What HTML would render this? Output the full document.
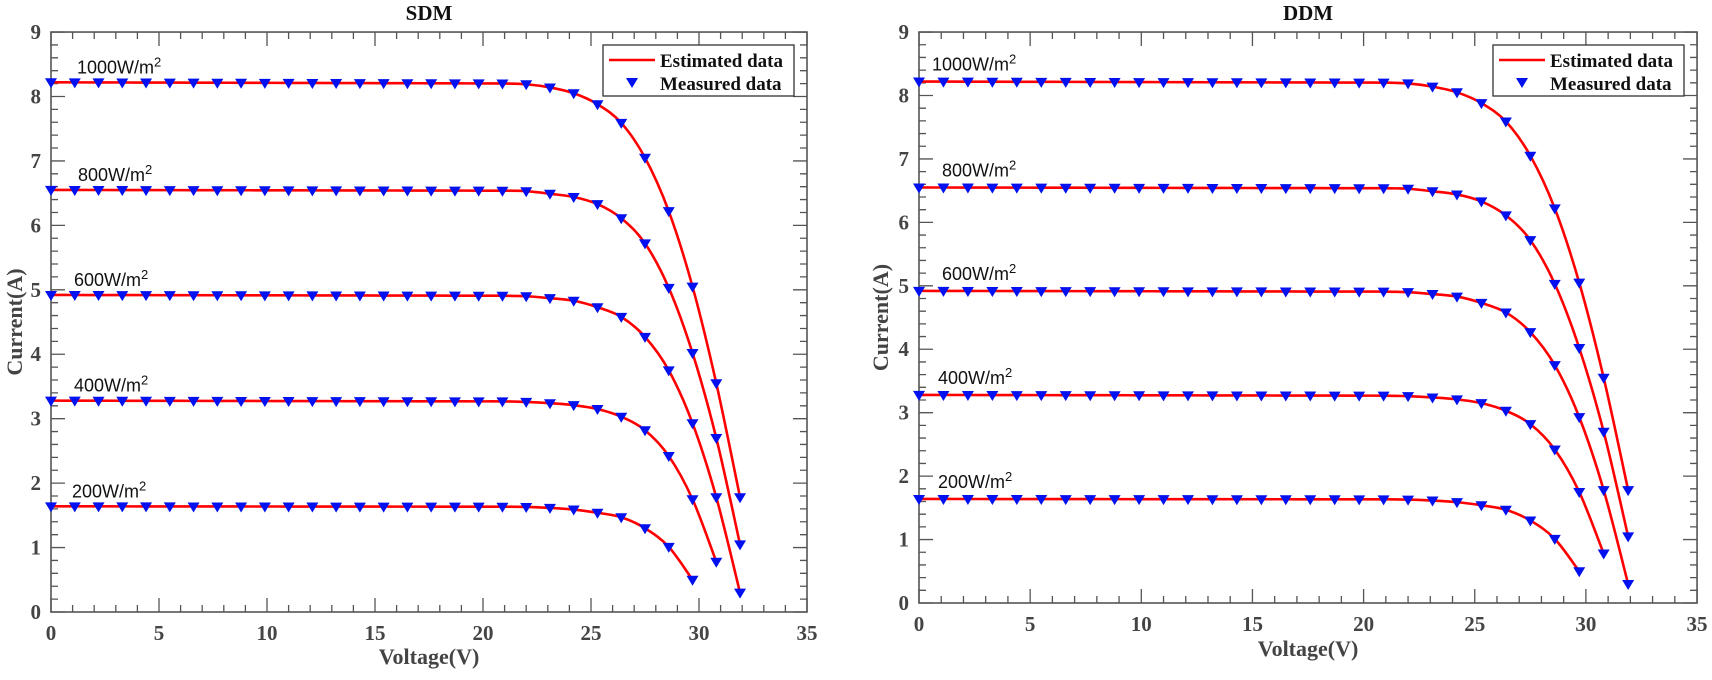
<!DOCTYPE html>
<html><head><meta charset="utf-8"><style>
body{margin:0;background:#fff;}
svg{display:block;}
.tk{font-family:"Liberation Serif",serif;font-weight:bold;font-size:21px;fill:#444;}
.lab{font-family:"Liberation Serif",serif;font-weight:bold;font-size:22px;fill:#444;}
.ttl{font-family:"Liberation Serif",serif;font-weight:bold;font-size:21px;fill:#111;}
.ir{font-family:"Liberation Sans",sans-serif;font-size:18px;fill:#111;}
.lg{font-family:"Liberation Serif",serif;font-weight:bold;font-size:19px;fill:#111;}
</style></head><body>
<svg id="s" width="1712" height="680" xmlns="http://www.w3.org/2000/svg"></svg>
<script>
const NS="http://www.w3.org/2000/svg";const S=document.getElementById('s');
function el(t,a,txt){const e=document.createElementNS(NS,t);for(const k in a)e.setAttribute(k,a[k]);if(txt!==undefined)e.textContent=txt;S.appendChild(e);return e;}
const curves=[
 {isc:8.22,drop:[8.19,8.14,8.05,7.88,7.59,7.05,6.22,5.05,3.55,1.78],n:29,lab:"1000"},
 {isc:6.55,drop:[6.53,6.49,6.44,6.33,6.11,5.72,5.03,4.02,2.7,1.05],n:29,lab:"800"},
 {isc:4.92,drop:[4.90,4.87,4.83,4.73,4.58,4.27,3.75,2.93,1.78,0.3],n:29,lab:"600"},
 {isc:3.28,drop:[3.26,3.24,3.21,3.15,3.03,2.82,2.42,1.75,0.78],n:28,lab:"400"},
 {isc:1.64,drop:[1.63,1.615,1.59,1.54,1.47,1.30,1.01,0.5],n:27,lab:"200"}];
function pts(c){const a=[];for(let k=0;k<=c.n;k++){const V=k*1.1;let I;const j=k-20;if(j>=0)I=c.drop[j];else I=c.isc-(c.isc-c.drop[0])*0.6*k/19;a.push([V,I]);}return a;}
function plot(o){
 const X=v=>o.x0+v*o.sx, Y=v=>o.y0-v*o.sy;
 const x1=X(35),y1=Y(9);
 el('text',{x:(o.x0+x1)/2,y:20,'text-anchor':'middle',class:'ttl'},o.title);
 let g='';
 for(let i=0;i<=35;i++){const L=i%5==0?14:7;const x=X(i);g+=`M${x} ${o.y0}v${-L}M${x} ${y1}v${L}`;
  if(i%5==0)el('text',{x:x,y:o.y0+28,'text-anchor':'middle',class:'tk'},i);}
 for(let i=0;i<=45;i++){const L=i%5==0?14:7;const y=Y(i/5);g+=`M${o.x0} ${y}h${L}M${x1} ${y}h${-L}`;
  if(i%5==0)el('text',{x:o.x0-10,y:y+7,'text-anchor':'end',class:'tk'},i/5);}
 el('path',{d:g,stroke:'#555','stroke-width':1.3,fill:'none'});
 el('rect',{x:o.x0,y:y1,width:x1-o.x0,height:o.y0-y1,fill:'none',stroke:'#555','stroke-width':1.6});
 el('text',{x:(o.x0+x1)/2,y:o.ly,'text-anchor':'middle',class:'lab'},'Voltage(V)');
 el('text',{x:0,y:0,'text-anchor':'middle',class:'lab',transform:`translate(${o.cx},${(o.y0+y1)/2}) rotate(-90)`},'Current(A)');
 curves.forEach((c,ci)=>{const p=pts(c).map(q=>[X(q[0]),Y(q[1])]);
  let d=`M${p[0][0]} ${p[0][1]}`;
  for(let i=0;i<p.length-1;i++){const p0=p[Math.max(0,i-1)],p1=p[i],p2=p[i+1],p3=p[Math.min(p.length-1,i+2)];
   d+=`C${p1[0]+(p2[0]-p0[0])/6} ${p1[1]+(p2[1]-p0[1])/6} ${p2[0]-(p3[0]-p1[0])/6} ${p2[1]-(p3[1]-p1[1])/6} ${p2[0]} ${p2[1]}`;}
  el('path',{d:d,stroke:'#f00','stroke-width':2.6,fill:'none'});
  let m='';p.forEach(q=>{m+=`M${q[0]-6} ${q[1]-4}h12l-6 10z`;});
  el('path',{d:m,fill:'#0010ee'});
  const t=el('text',{x:o.lx[ci],y:Y(c.isc)-o.loff,class:'ir'},c.lab+'W/m');
  const ts=document.createElementNS(NS,'tspan');ts.setAttribute('dy','-7');ts.setAttribute('font-size','13');ts.textContent='2';t.appendChild(ts);
 });
 const lx=o.lgx,ly=45;
 el('rect',{x:lx,y:ly,width:o.lgw,height:51,fill:'#fff',stroke:'#333','stroke-width':1.3});
 el('line',{x1:lx+6,y1:ly+15,x2:lx+52,y2:ly+15,stroke:'#f00','stroke-width':2.6});
 el('path',{d:`M${lx+23} ${ly+33}h12l-6 10z`,fill:'#0010ee'});
 el('text',{x:lx+57,y:ly+22,class:'lg'},'Estimated data');
 el('text',{x:lx+57,y:ly+45,class:'lg'},'Measured data');
}
plot({x0:51,sx:21.6,y0:612,sy:64.44,title:'SDM',ly:664,cx:22,lx:[77,78,74,74,72],loff:9,lgx:603,lgw:191});
plot({x0:919,sx:22.23,y0:603,sy:63.44,title:'DDM',ly:656,cx:888,lx:[932,942,942,938,938],loff:11,lgx:1493,lgw:191});
</script>
</body></html>
